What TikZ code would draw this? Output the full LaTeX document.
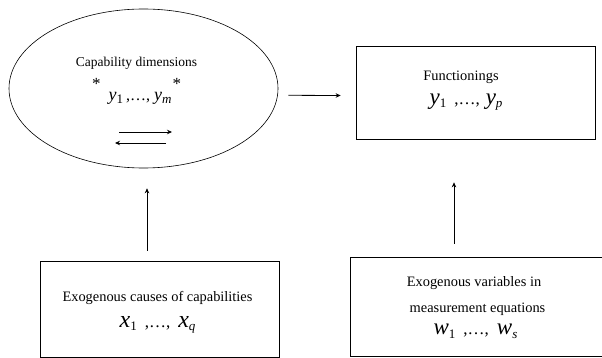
\documentclass[tikz,border=0pt]{standalone}
\usepackage{fontspec}
\setmainfont{Liberation Serif}
\usetikzlibrary{arrows.meta,positioning,shapes.geometric}

% letter size, letter, subscript
\newcommand{\subvar}[3]{{\fontsize{#1}{#1}\selectfont\textit{#2}}\raisebox{-0.25em}{\fontsize{13}{13}\selectfont #3}}
\newcommand{\dotsep}[1]{{\fontsize{#1}{#1}\selectfont ,…,}}

\tikzset{
  frame/.style={draw, line width=0.7pt, minimum width=239pt, inner sep=0pt},
  txt/.style={inner sep=0pt},
  link/.style={->, line width=0.8pt}
}

\begin{document}
\begin{tikzpicture}[x=1pt, y=-1pt, font=\fontsize{14.4}{17}\selectfont,
  >={Stealth[length=5pt,width=4.5pt]}]
  \useasboundingbox (0,0) rectangle (602,358);

  % capability ellipse
  \node[draw, ellipse, line width=0.6pt, minimum width=269pt, minimum height=159pt, inner sep=0pt] (capab) at (143.5,88.5) {};
  \node[txt, font=\fontsize{13.5}{16}\selectfont] (capabname) at (136.5,63) {Capability dimensions};
  \node[txt] (stars) at (136.5,83.5) {\fontsize{17}{17}\selectfont\makebox[89pt]{*\hfill*}};
  \node[txt] (capabvars) at (140,98) {\subvar{18}{y}{1}\hspace{3pt}\dotsep{16}\hspace{4pt}\subvar{18}{y}{\textit{m}}};
  \coordinate (fwds) at (119,132);
  \coordinate (fwde) at (172,132);
  \coordinate (bcks) at (166,143);
  \coordinate (bcke) at (115,143);
  \draw[link] (fwds) -- (fwde);
  \draw[link] (bcks) -- (bcke);

  % functionings
  \node[frame, minimum height=93pt] (func) at (476,92.5) {};
  \node[txt] (funcname) at (461,77) {Functionings};
  \node[txt] (funcvars) at (466,102) {\subvar{23}{y}{1}\hspace{8pt}\dotsep{17}\hspace{6pt}\subvar{23}{y}{\textit{p}}};

  % exogenous causes
  \node[frame, minimum height=96pt] (causes) at (160,309) {};
  \node[txt] (causesname) at (157.5,298) {Exogenous causes of capabilities};
  \node[txt] (causesvars) at (157.5,325) {\subvar{24}{x}{1}\hspace{8pt}\dotsep{17}\hspace{8pt}\subvar{24}{x}{\textit{q}}};

  % exogenous variables in measurement
  \node[draw, line width=0.7pt, minimum width=260pt, minimum height=99pt, inner sep=0pt] (measure) at (480,306.5) {};
  \node[txt] (measname1) at (474,283) {Exogenous variables in};
  \node[txt] (measname2) at (477.5,309) {measurement equations};
  \node[txt] (measvars) at (475.5,331) {\subvar{23}{w}{1}\hspace{8pt}\dotsep{17}\hspace{8pt}\subvar{23}{w}{\textit{s}}};

  % connectors
  \draw[link] ([xshift=10pt,yshift=-6.8pt]capab.east) -- ([xshift=-15.5pt,yshift=-3pt]func.west);
  \draw[link] ([xshift=-13pt,yshift=10pt]causes.north) -- ([xshift=3.5pt,yshift=-20pt]capab.south);
  \draw[link] ([xshift=-26pt,yshift=13pt]measure.north) -- ([xshift=-22pt,yshift=-43pt]func.south);
\end{tikzpicture}
\end{document}
